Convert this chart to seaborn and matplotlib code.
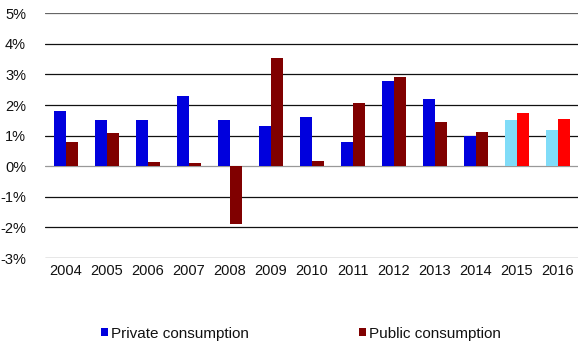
import matplotlib
matplotlib.use("Agg")
import matplotlib.pyplot as plt
from matplotlib.patches import Patch
import seaborn as sns
import pandas as pd

years = ["2004", "2005", "2006", "2007", "2008", "2009", "2010",
         "2011", "2012", "2013", "2014", "2015", "2016"]
private = [1.8, 1.5, 1.5, 2.3, 1.5, 1.3, 1.6, 0.8, 2.8, 2.2, 1.0, 1.5, 1.2]
public = [0.8, 1.1, 0.13, 0.12, -1.87, 3.52, 0.18, 2.08, 2.91, 1.44, 1.11, 1.74, 1.54]
forecast_years = ["2015", "2016"]
y_ticks = [-3, -2, -1, 0, 1, 2, 3, 4, 5]

series_names = ["Private consumption", "Public consumption"]
colors = {"Private consumption": "#0000DD", "Public consumption": "#800000"}
forecast_colors = {"Private consumption": "#80DCF8", "Public consumption": "#FF0000"}

df = pd.DataFrame({
    "year": years * 2,
    "value": private + public,
    "series": [series_names[0]] * len(years) + [series_names[1]] * len(years),
})

sns.set_style("white")
plt.rcParams["font.family"] = ["Liberation Sans", "DejaVu Sans"]
plt.rcParams["font.size"] = 10.5

fig = plt.figure(figsize=(5.78, 3.46), dpi=100)
ax = fig.add_axes([0.0787, 0.254, 0.9213, 0.708])

sns.barplot(data=df, x="year", y="value", hue="series", order=years,
            hue_order=series_names, palette=colors, width=0.585,
            saturation=1, legend=False, ax=ax, zorder=3)

# projected years get their own lighter colours
for container, name in zip(ax.containers, series_names):
    for bar, yr in zip(container.patches, years):
        if yr in forecast_years:
            bar.set_facecolor(forecast_colors[name])
        bar.set_linewidth(0)

ax.set_xlim(-0.5, len(years) - 0.5)
ax.set_ylim(-3, 5)
ax.set_yticks(y_ticks)
ax.set_yticklabels([f"{t}%" for t in y_ticks])
grid_colors = {0: "#999999", 5: "#666666", -3: "#444444"}
for t in y_ticks:
    ax.axhline(t, color=grid_colors.get(t, "#111111"), lw=0.9, zorder=1)
for s in ax.spines.values():
    s.set_visible(False)
ax.tick_params(axis="y", length=0, pad=14, labelsize=10.5, colors="#111111")
ax.tick_params(axis="x", length=0, pad=4, labelsize=10.5, colors="#111111")
ax.set_xlabel("")
ax.set_ylabel("")

handles = [Patch(facecolor=colors[n], edgecolor="none") for n in series_names]
fig.legend(handles, series_names, loc="center left",
           bbox_to_anchor=(0.1747, 0.036), ncol=2, frameon=False,
           handlelength=0.46, handleheight=0.46, handletextpad=0.2,
           columnspacing=7.2, fontsize=11, borderaxespad=0, borderpad=0,
           labelcolor="#111111")

fig.savefig("out.png", dpi=100)
